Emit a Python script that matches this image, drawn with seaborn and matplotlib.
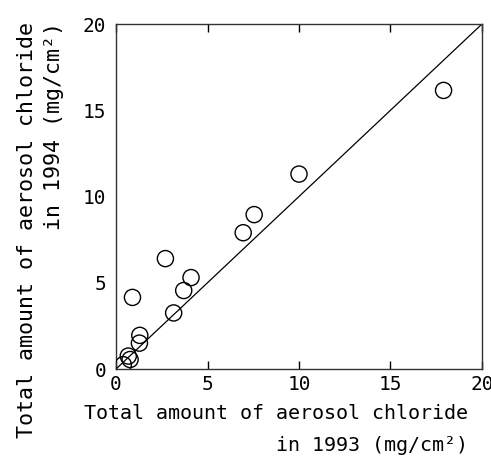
import matplotlib
matplotlib.use("Agg")
import matplotlib.pyplot as plt
import seaborn as sns
import pandas as pd

# Data
x1993 = [17.9, 10.0, 7.55, 6.95, 2.7, 4.1, 3.7, 0.9, 3.15, 1.3, 1.28, 0.67, 0.77, 0.4]
y1994 = [16.15, 11.3, 8.95, 7.9, 6.4, 5.3, 4.55, 4.15, 3.25, 1.95, 1.5, 0.75, 0.55, 0.25]
line_x = [0, 20]
line_y = [0, 20]
ticks = [0, 5, 10, 15, 20]

df = pd.DataFrame({"x": x1993, "y": y1994})
ref = pd.DataFrame({"x": line_x, "y": line_y})

sns.set_theme(style="white")
plt.rcParams["font.family"] = ["DejaVu Sans Mono", "DejaVu Sans"]
plt.rcParams["font.size"] = 14

fig = plt.figure(figsize=(4.91, 4.61), dpi=100)
ax = fig.add_axes([116 / 491, 1 - 369 / 461, 366 / 491, 345 / 461])

sns.lineplot(data=ref, x="x", y="y", ax=ax, color="black", linewidth=0.9)
sns.scatterplot(data=df, x="x", y="y", ax=ax, marker="o", s=135,
                facecolor="none", edgecolor="black", linewidth=1.0, zorder=3)

ax.set_xlim(0, 20)
ax.set_ylim(0, 20)
ax.set_xticks(ticks)
ax.set_yticks(ticks)
ax.set_xticklabels([str(t) for t in ticks])
ax.set_yticklabels([str(t) for t in ticks])
ax.tick_params(axis="x", direction="in", length=6, width=1, top=True, bottom=True,
               color="black", pad=4, labelsize=14, labelcolor="black")
ax.tick_params(axis="y", length=0, pad=7, labelsize=14, labelcolor="black")
for sp in ax.spines.values():
    sp.set_visible(True)
    sp.set_color("#333333")
    sp.set_linewidth(1.0)

ax.set_xlabel("Total amount of aerosol chloride\nin 1993 (mg/cm²)",
              ha="right", va="top", multialignment="right", linespacing=1.85,
              fontsize=14.4, color="black")
ax.xaxis.set_label_coords((468 - 116) / 366, (369 - 404) / 345)
ax.set_ylabel("Total amount of aerosol chloride\nin 1994 (mg/cm²)",
              ha="right", va="top", multialignment="right", linespacing=1.45,
              fontsize=15.6, color="black", rotation=90, rotation_mode="anchor")
ax.yaxis.set_label_coords((17 - 116) / 366, (369 - 22) / 345)

fig.savefig("out.png", dpi=100, facecolor="white")
